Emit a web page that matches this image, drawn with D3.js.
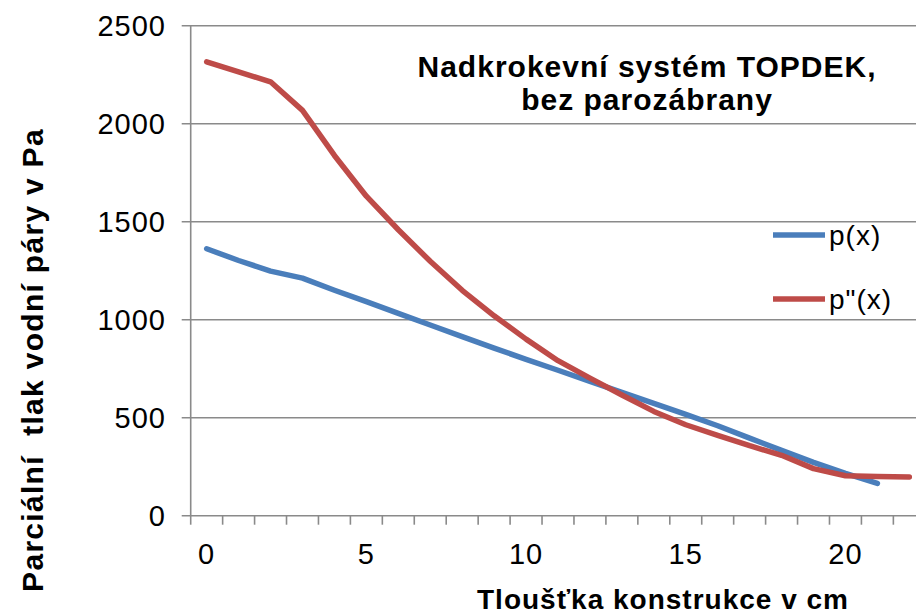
<!DOCTYPE html>
<html>
<head>
<meta charset="utf-8">
<script src="https://cdn.jsdelivr.net/npm/d3@7"></script>
<style>
  body { margin: 0; background: #fff; }
  text { font-family: "Liberation Sans", Arial, sans-serif; fill: #000; }
</style>
</head>
<body>
<div class="chart"></div>
<script>
var svgWidth = 916;
var svgHeight = 614;

// chart data
var categories = [0, 1, 2, 3, 4, 5, 6, 7, 8, 9, 10, 11, 12, 13, 14, 15, 16, 17, 18, 19, 20, 21, 22];
var pValues = [1362, 1302, 1248, 1212, 1150, 1092, 1032, 973, 914, 855, 798, 742, 685,
  629, 573, 517, 459, 396, 333, 272, 216, 165];
var pSatValues = [2316, 2264, 2214, 2068, 1838, 1630, 1459, 1298, 1150, 1020, 901, 791, 702,
  616, 532, 464, 410, 357, 308, 240, 204, 200, 198];
var xTickLabels = [0, 5, 10, 15, 20];
var yTicks = [0, 500, 1000, 1500, 2000, 2500];
var seriesNames = ["p(x)", "p\"(x)"];
var seriesColors = ["#4a7ebb", "#be4b48"];

var plot = { left: 190.7, right: 925.3, top: 25.7, bottom: 515.7 };

var svg = d3.select(".chart")
  .append("svg")
  .attr("width", svgWidth)
  .attr("height", svgHeight);

// category axis, ticks between categories
var xBand = d3.scaleBand()
  .domain(categories)
  .range([plot.left, plot.right])
  .padding(0);

var xCenter = d => xBand(d) + xBand.bandwidth() / 2;

var yScale = d3.scaleLinear()
  .domain([0, 2500])
  .range([plot.bottom, plot.top]);

// gridlines
svg.append("g")
  .selectAll("line")
  .data(yTicks)
  .enter()
  .append("line")
  .attr("x1", plot.left - 9)
  .attr("x2", plot.right)
  .attr("y1", d => yScale(d))
  .attr("y2", d => yScale(d))
  .attr("stroke", "#8a8a8a")
  .attr("stroke-width", 1.6);

// y axis line
svg.append("line")
  .attr("x1", plot.left)
  .attr("x2", plot.left)
  .attr("y1", plot.top)
  .attr("y2", plot.bottom)
  .attr("stroke", "#8a8a8a")
  .attr("stroke-width", 1.6);

// x ticks at band edges
var edges = categories.map(d => xBand(d)).concat([plot.right]);
svg.append("g")
  .selectAll("line")
  .data(edges)
  .enter()
  .append("line")
  .attr("x1", d => d)
  .attr("x2", d => d)
  .attr("y1", plot.bottom)
  .attr("y2", plot.bottom + 9)
  .attr("stroke", "#8a8a8a")
  .attr("stroke-width", 1.6);

// y tick labels
svg.append("g")
  .selectAll("text")
  .data(yTicks)
  .enter()
  .append("text")
  .attr("x", 166)
  .attr("y", d => yScale(d))
  .attr("dy", "0.36em")
  .attr("text-anchor", "end")
  .style("font-size", "29px")
  .style("letter-spacing", "1px")
  .text(d => d);

// x tick labels
svg.append("g")
  .selectAll("text")
  .data(xTickLabels)
  .enter()
  .append("text")
  .attr("x", d => xCenter(d))
  .attr("y", 564)
  .attr("text-anchor", "middle")
  .style("font-size", "29px")
  .style("letter-spacing", "1px")
  .text(d => d);

// lines
var line = d3.line()
  .x((d, i) => xCenter(categories[i]))
  .y(d => yScale(d));

[pValues, pSatValues].forEach(function(values, k) {
  svg.append("path")
    .datum(values)
    .attr("fill", "none")
    .attr("stroke", seriesColors[k])
    .attr("stroke-width", 5.5)
    .attr("stroke-linejoin", "round")
    .attr("stroke-linecap", "round")
    .attr("d", line);
});

// legend
var legendY = [235, 299];
seriesNames.forEach(function(name, k) {
  svg.append("line")
    .attr("x1", 773)
    .attr("x2", 825)
    .attr("y1", legendY[k])
    .attr("y2", legendY[k])
    .attr("stroke", seriesColors[k])
    .attr("stroke-width", 5.5);
  svg.append("text")
    .attr("x", 829)
    .attr("y", legendY[k])
    .attr("dy", "0.36em")
    .style("font-size", "28px")
    .style("letter-spacing", "1px")
    .text(name);
});

// title
var title = svg.append("text")
  .attr("text-anchor", "middle")
  .style("font-size", "30px")
  .style("font-weight", "bold")
  .style("letter-spacing", "1px");
title.append("tspan").attr("x", 647).attr("y", 77).text("Nadkrokevní systém TOPDEK,");
title.append("tspan").attr("x", 647).attr("y", 110).text("bez parozábrany");

// axis titles
svg.append("text")
  .attr("transform", "translate(43, 360) rotate(-90)")
  .attr("text-anchor", "middle")
  .style("font-size", "30px")
  .style("font-weight", "bold")
  .style("letter-spacing", "1.3px")
  .style("white-space", "pre")
  .text("Parciální  tlak vodní páry v Pa");

svg.append("text")
  .attr("x", 477)
  .attr("y", 609)
  .style("font-size", "28px")
  .style("font-weight", "bold")
  .style("letter-spacing", "1px")
  .text("Tloušťka konstrukce v cm");
</script>
</body>
</html>
